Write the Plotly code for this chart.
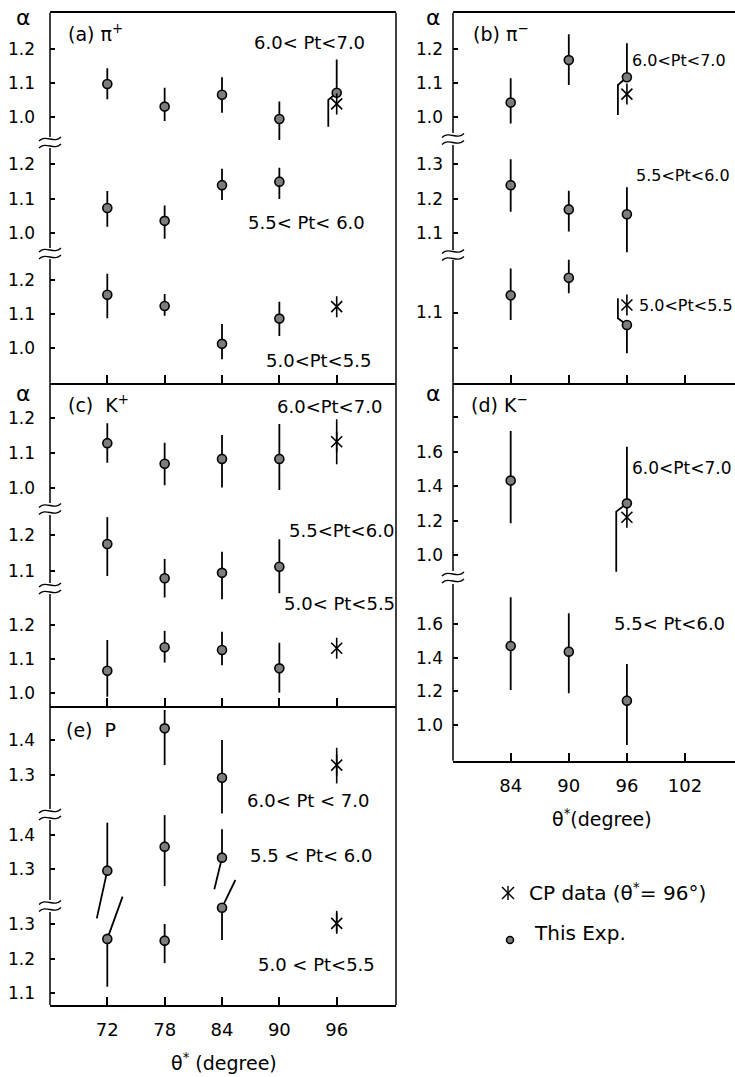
import plotly.graph_objects as go

W, H = 735, 1077

# ---------------- measured alpha values ----------------
# each entry: (theta*, alpha, upper end of error bar, lower end of error bar)

# (a) pi+
pip_60_70 = [(72, 1.097, 1.144, 1.052), (78, 1.030, 1.086, 0.987), (84, 1.065, 1.117, 1.012),
             (90, 0.993, 1.045, 0.931), (96, 1.071, 1.170, 0.970)]
pip_55_60 = [(72, 1.073, 1.122, 1.019), (78, 1.036, 1.080, 0.984), (84, 1.139, 1.186, 1.096),
             (90, 1.149, 1.189, 1.099)]
pip_50_55 = [(72, 1.157, 1.218, 1.088), (78, 1.124, 1.159, 1.095), (84, 1.013, 1.071, 0.968),
             (90, 1.087, 1.136, 1.036)]
cp_pip_60_70 = [(96, 1.038, None, None)]
cp_pip_50_55 = [(96, 1.122, None, None)]

# (b) pi-
pim_60_70 = [(84, 1.042, 1.114, 0.980), (90, 1.168, 1.245, 1.094), (96, 1.117, 1.218, 1.005)]
pim_55_60 = [(84, 1.239, 1.314, 1.162), (90, 1.169, 1.223, 1.105), (96, 1.155, 1.233, 1.045)]
pim_50_55 = [(84, 1.148, 1.223, 1.079), (90, 1.197, 1.247, 1.154), (96, 1.065, 1.140, 0.986)]
cp_pim_60_70 = [(96, 1.067, None, None)]
cp_pim_50_55 = [(96, 1.121, None, None)]

# (c) K+
kp_60_70 = [(72, 1.129, 1.186, 1.073), (78, 1.070, 1.130, 1.009), (84, 1.084, 1.152, 1.002),
            (90, 1.084, 1.184, 0.995)]
kp_55_60 = [(72, 1.175, 1.250, 1.085), (78, 1.079, 1.133, 1.025), (84, 1.094, 1.153, 1.020),
            (90, 1.111, 1.188, 1.037)]
kp_50_55 = [(72, 1.066, 1.156, 0.990), (78, 1.135, 1.183, 1.090), (84, 1.127, 1.180, 1.082),
            (90, 1.073, 1.148, 1.002)]
cp_kp_60_70 = [(96, 1.133, 1.197, 1.069)]
cp_kp_50_55 = [(96, 1.132, None, None)]

# (d) K-
km_60_70 = [(84, 1.432, 1.720, 1.184), (96, 1.300, 1.629, 0.903)]
km_55_60 = [(84, 1.471, 1.761, 1.208), (90, 1.437, 1.666, 1.189), (96, 1.145, 1.363, 0.881)]
cp_km_60_70 = [(96, 1.219, None, None)]

# (e) p
p_60_70 = [(78, 1.433, 1.485, 1.329), (84, 1.293, 1.400, 1.192)]
p_55_60 = [(72, 1.296, 1.436, 1.157), (78, 1.366, 1.458, 1.251), (84, 1.334, 1.417, 1.242)]
p_50_55 = [(72, 1.257, 1.379, 1.119), (78, 1.252, 1.300, 1.187), (84, 1.347, 1.427, 1.254)]
cp_p_60_70 = [(96, 1.329, 1.378, 1.277)]
cp_p_50_55 = [(96, 1.302, 1.338, 1.278)]

theta_ticks_left = [72, 78, 84, 90, 96]
theta_ticks_right = [84, 90, 96, 102]

# error bars drawn displaced to keep clear of neighbouring symbols:
# (series, theta) -> (side, x of displaced segment, alpha where it bends or None)
displaced = {
    ("pip_60_70", 96): ("lo", 95.12, 1.050),
    ("pim_60_70", 96): ("lo", 95.07, 1.094),
    ("pim_50_55", 96): ("up", 95.07, 1.084),
    ("km_60_70", 96): ("lo", 94.90, 1.252),
    ("p_55_60", 72): ("lo", 70.9, None),
    ("p_55_60", 84): ("lo", 83.2, None),
    ("p_50_55", 72): ("up", 73.6, None),
    ("p_50_55", 84): ("up", 85.4, None),
}

FONT = "DejaVu Sans"


def fx(p):
    return p / W


def fy(p):
    return 1 - p / H


def lin_range(v1, p1, v2, p2, top, bot):
    s = (p2 - p1) / (v1 - v2)
    return [v1 - (bot - p1) / s, v1 + (p1 - top) / s]


def fmt(v):
    return f"{v:.1f}"


# panel geometry (pixels) and y-band tick anchors
panels = [
    dict(name="a", side="L", top=12.7, bot=382.7, xticks=theta_ticks_left, xlabels=False, mirror=True,
         bands=[
             dict(key="pip_60_70", data=pip_60_70, cp=cp_pip_60_70, anc=(1.2, 49.3, 1.0, 116.7),
                  ticks=[1.0, 1.1, 1.2], spine=(12.7, 137)),
             dict(key="pip_55_60", data=pip_55_60, cp=None, anc=(1.2, 164, 1.0, 233.3),
                  ticks=[1.0, 1.1, 1.2], spine=(148, 248)),
             dict(key="pip_50_55", data=pip_50_55, cp=cp_pip_50_55, anc=(1.2, 280, 1.0, 348.3),
                  ticks=[1.0, 1.1, 1.2], spine=(259, 382.7)),
         ]),
    dict(name="c", side="L", top=382.7, bot=706, xticks=theta_ticks_left, xlabels=False, mirror=False,
         bands=[
             dict(key="kp_60_70", data=kp_60_70, cp=cp_kp_60_70, anc=(1.2, 418.3, 1.0, 488.3),
                  ticks=[1.0, 1.1, 1.2], spine=(382.7, 503)),
             dict(key="kp_55_60", data=kp_55_60, cp=None, anc=(1.2, 535, 1.1, 570.7),
                  ticks=[1.1, 1.2], spine=(515, 583)),
             dict(key="kp_50_55", data=kp_50_55, cp=cp_kp_50_55, anc=(1.2, 625, 1.0, 693.3),
                  ticks=[1.0, 1.1, 1.2], spine=(594, 706)),
         ]),
    dict(name="e", side="L", top=706, bot=1005, xticks=theta_ticks_left, xlabels=True, mirror=False,
         bands=[
             dict(key="p_60_70", data=p_60_70, cp=cp_p_60_70, anc=(1.4, 740, 1.3, 775.3),
                  ticks=[1.3, 1.4], spine=(706, 809)),
             dict(key="p_55_60", data=p_55_60, cp=None, anc=(1.4, 835, 1.3, 869.3),
                  ticks=[1.3, 1.4], spine=(820, 900)),
             dict(key="p_50_55", data=p_50_55, cp=cp_p_50_55, anc=(1.3, 924, 1.1, 993.3),
                  ticks=[1.1, 1.2, 1.3], spine=(912, 1005)),
         ]),
    dict(name="b", side="R", top=12.7, bot=382.7, xticks=theta_ticks_right, xlabels=False, mirror=True,
         bands=[
             dict(key="pim_60_70", data=pim_60_70, cp=cp_pim_60_70, anc=(1.2, 49.3, 1.0, 116.7),
                  ticks=[1.0, 1.1, 1.2], spine=(12.7, 133)),
             dict(key="pim_55_60", data=pim_55_60, cp=None, anc=(1.3, 164, 1.1, 233.3),
                  ticks=[1.1, 1.2, 1.3], spine=(145, 250)),
             dict(key="pim_50_55", data=pim_50_55, cp=cp_pim_50_55, anc=(1.1, 312.5, 1.0, 348.3),
                  ticks=[1.0, 1.1], blank=[1.0], spine=(260, 382.7)),
         ]),
    dict(name="d", side="R", top=382.7, bot=760.7, xticks=theta_ticks_right, xlabels=True, mirror=False,
         bands=[
             dict(key="km_60_70", data=km_60_70, cp=cp_km_60_70, anc=(1.6, 451.7, 1.0, 555),
                  ticks=[1.0, 1.2, 1.4, 1.6, 1.8], blank=[1.8], spine=(382.7, 571)),
             dict(key="km_55_60", data=km_55_60, cp=None, anc=(1.6, 624.3, 1.0, 725),
                  ticks=[1.0, 1.2, 1.4, 1.6], spine=(584, 760.7)),
         ]),
]

LX0, LX1 = 50, 396
RX0, RX1 = 453, 735
left_range = [72 - (107.3 - LX0) / 9.558, 96 + (LX1 - 336.7) / 9.558]
right_range = [84 - (510.7 - RX0) / 9.683, 102 + (RX1 - 685) / 9.683]

fig = go.Figure()
layout = dict(
    width=W, height=H, autosize=False,
    margin=dict(l=0, r=0, t=0, b=0),
    paper_bgcolor="white", plot_bgcolor="rgba(0,0,0,0)",
    showlegend=False,
    font=dict(family=FONT, color="black"),
)
shapes = []
annotations = []


def seg(x0, y0, x1, y1, width=1.5):
    shapes.append(dict(type="line", xref="paper", yref="paper",
                       x0=fx(x0), y0=fy(y0), x1=fx(x1), y1=fy(y1),
                       line=dict(color="black", width=width)))


def break_mark(x, y):
    for d in (-3.5, 3.5):
        pts = [(x - 11, y + d + 2), (x - 4, y + d - 5), (x + 4, y + d + 5), (x + 11, y + d - 2)]
        path = "M {:.5f},{:.5f} C {:.5f},{:.5f} {:.5f},{:.5f} {:.5f},{:.5f}".format(
            *[c for p in pts for c in (fx(p[0]), fy(p[1]))])
        shapes.append(dict(type="path", xref="paper", yref="paper", path=path,
                           line=dict(color="black", width=1.4)))


yi = 0
xi = 0
for pan in panels:
    xi += 1
    xname = "x" if xi == 1 else f"x{xi}"
    x0px, x1px = (LX0, LX1) if pan["side"] == "L" else (RX0, RX1)
    base = None
    prev_end = None
    for b in pan["bands"]:
        yi += 1
        yname = "y" if yi == 1 else f"y{yi}"
        v1, p1, v2, p2 = b["anc"]
        rng = lin_range(v1, p1, v2, p2, pan["top"], pan["bot"])
        blank = b.get("blank", [])
        ax = dict(range=rng, tickvals=b["ticks"],
                  ticktext=["" if t in blank else fmt(t) for t in b["ticks"]],
                  ticks="inside", ticklen=5, tickwidth=1.5, tickcolor="black",
                  showline=False, showgrid=False, zeroline=False, anchor=xname,
                  tickfont=dict(size=17, family=FONT, color="black"),
                  ticklabelstandoff=14 if pan["side"] == "L" else 9)
        if base is None:
            ax["domain"] = [fy(pan["bot"]), fy(pan["top"])]
            base = yname
        else:
            ax["overlaying"] = base
        layout["yaxis" if yi == 1 else f"yaxis{yi}"] = ax

        # left spine segment and break symbol
        s0, s1 = b["spine"]
        seg(x0px, s0, x0px, s1)
        if prev_end is not None:
            break_mark(x0px, (prev_end + s0) / 2)
        prev_end = s1

        # measurements with error bars
        th = [r[0] for r in b["data"]]
        al = [r[1] for r in b["data"]]
        up = [r[2] - r[1] for r in b["data"]]
        lo = [r[1] - r[3] for r in b["data"]]
        for i, r in enumerate(b["data"]):
            spec = displaced.get((b["key"], r[0]))
            if spec is None:
                continue
            side, xk, bend = spec
            end = r[2] if side == "up" else r[3]
            if side == "up":
                up[i] = 0
            else:
                lo[i] = 0
            xs = [r[0]] + ([xk] if bend is not None else []) + [xk]
            ys = [r[1]] + ([bend] if bend is not None else []) + [end]
            fig.add_trace(go.Scatter(x=xs, y=ys, mode="lines", xaxis=xname, yaxis=yname,
                                     line=dict(color="black", width=1.8), hoverinfo="skip"))
        fig.add_trace(go.Scatter(
            x=th, y=al, mode="markers", xaxis=xname, yaxis=yname,
            error_y=dict(type="data", symmetric=False, array=up, arrayminus=lo,
                         color="black", thickness=1.8, width=0),
            marker=dict(symbol="circle", size=9, color="#7d7d7d",
                        line=dict(color="black", width=1.6)),
        ))
        # CP data points (asterisks)
        if b["cp"]:
            cth = [r[0] for r in b["cp"]]
            cal = [r[1] for r in b["cp"]]
            cup = [(r[2] - r[1]) if r[2] is not None else 0 for r in b["cp"]]
            clo = [(r[1] - r[3]) if r[3] is not None else 0 for r in b["cp"]]
            fig.add_trace(go.Scatter(
                x=cth, y=cal, mode="markers", xaxis=xname, yaxis=yname,
                error_y=dict(type="data", symmetric=False, array=cup, arrayminus=clo,
                             color="black", thickness=1.6, width=0),
                marker=dict(symbol="x-thin-open", size=11, color="black",
                            line=dict(color="black", width=1.6)),
            ))
            fig.add_trace(go.Scatter(
                x=cth, y=cal, mode="markers", xaxis=xname, yaxis=yname,
                marker=dict(symbol="line-ns-open", size=15, color="black",
                            line=dict(color="black", width=1.6)),
            ))

    layout["xaxis" if xi == 1 else f"xaxis{xi}"] = dict(
        domain=[fx(x0px), fx(x1px)],
        range=left_range if pan["side"] == "L" else right_range,
        anchor=base, tickvals=pan["xticks"], ticktext=[str(t) for t in pan["xticks"]],
        showticklabels=pan["xlabels"], ticks="inside", ticklen=8, tickwidth=1.5,
        tickcolor="black", showline=True, linecolor="black", linewidth=1.5,
        mirror=pan["mirror"], showgrid=False, zeroline=False,
        tickfont=dict(size=18, family=FONT, color="black"), ticklabelstandoff=8,
    )

# right borders of the left column
seg(LX1, 12.7, LX1, 1005)


def text(x, y, s, size=18, anchor="left"):
    annotations.append(dict(xref="paper", yref="paper", x=fx(x), y=fy(y), text=s,
                            showarrow=False, xanchor=anchor, yanchor="middle",
                            font=dict(size=size, family=FONT, color="black")))


# axis symbols
for (x, y) in [(23, 18), (433, 18), (23, 393), (433, 393)]:
    text(x, y, "α", size=22, anchor="center")

# panel titles
text(66, 33, "(a) π<sup>+</sup>", 19)
text(471, 33, "(b) π<sup>−</sup>", 19)
text(66, 404, "(c)  K<sup>+</sup>", 19)
text(469, 404, "(d) K<sup>−</sup>", 19)
text(64, 730, "(e)  P", 19)

# transverse-momentum bin labels
text(252, 43, "6.0< Pt<7.0")
text(246, 222, "5.5< Pt< 6.0")
text(264, 360, "5.0<Pt<5.5")
text(630, 60, "6.0<Pt<7.0", 16)
text(634, 175, "5.5<Pt<6.0", 16)
text(637, 305, "5.0<Pt<5.5", 16)
text(275, 407, "6.0<Pt<7.0")
text(287, 530, "5.5<Pt<6.0")
text(282, 603, "5.0< Pt<5.5")
text(630, 468, "6.0<Pt<7.0", 17)
text(612, 623, "5.5< Pt<6.0")
text(245, 800, "6.0< Pt < 7.0")
text(248, 855, "5.5 < Pt< 6.0")
text(256, 964, "5.0 < Pt<5.5")

# axis titles
text(224, 1062, "θ<sup>*</sup> (degree)", 19, anchor="center")
text(602, 818, "θ<sup>*</sup>(degree)", 19, anchor="center")

# key
cx, cy, r = 508, 893, 6
seg(cx, cy - r - 1, cx, cy + r + 1, 1.4)
seg(cx - r, cy - r, cx + r, cy + r, 1.4)
seg(cx - r, cy + r, cx + r, cy - r, 1.4)
text(527, 892, "CP data (θ<sup>*</sup>= 96°)", 20)
shapes.append(dict(type="circle", xref="paper", yref="paper",
                   x0=fx(506.5), x1=fx(513.5), y0=fy(943.5), y1=fy(936.5),
                   fillcolor="#7d7d7d", line=dict(color="black", width=1.5)))
text(532, 933, "This Exp.", 20)

layout["shapes"] = shapes
layout["annotations"] = annotations
fig.update_layout(**layout)
fig.write_html("out.html")
